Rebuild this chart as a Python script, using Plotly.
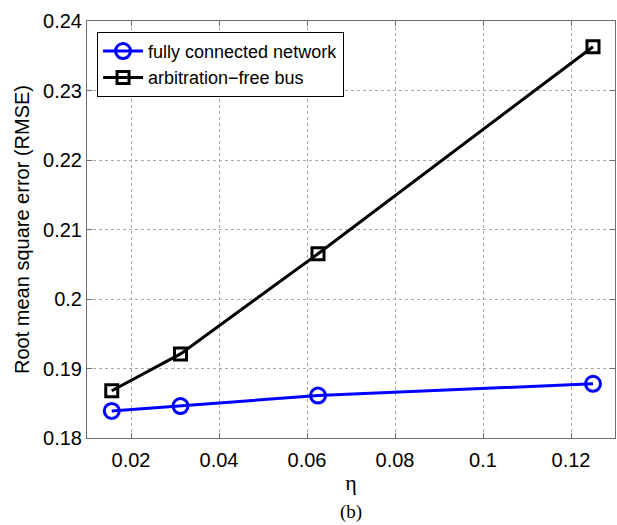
import plotly.graph_objects as go

eta = [0.015625, 0.03125, 0.0625, 0.125]
fully_connected = [0.1839, 0.1846, 0.1861, 0.1878]
arbitration_free = [0.1868, 0.1921, 0.2065, 0.2363]
x_ticks = [0.02, 0.04, 0.06, 0.08, 0.1, 0.12]
x_tick_text = ["0.02", "0.04", "0.06", "0.08", "0.1", "0.12"]
y_ticks = [0.18, 0.19, 0.2, 0.21, 0.22, 0.23, 0.24]
y_tick_text = ["0.18", "0.19", "0.2", "0.21", "0.22", "0.23", "0.24"]

fig = go.Figure()
fig.add_trace(go.Scatter(
    x=eta, y=fully_connected, mode="lines+markers",
    name="fully connected network",
    line=dict(color="#0000ff", width=3),
    marker=dict(symbol="circle-open", size=15, color="#0000ff", line=dict(width=3)),
))
fig.add_trace(go.Scatter(
    x=eta, y=arbitration_free, mode="lines+markers",
    name="arbitration\u2212free bus",
    line=dict(color="#000000", width=3),
    marker=dict(symbol="square-open", size=12, color="#000000", line=dict(width=3)),
))

axis_common = dict(
    showline=True, linecolor="#6e6e6e", linewidth=1, mirror="ticks",
    ticks="inside", ticklen=5, tickcolor="#6e6e6e",
    showgrid=True, gridcolor="#a8a8a8", griddash="dot", gridwidth=1,
    zeroline=False,
    tickfont=dict(family="Liberation Sans, Arial, sans-serif", size=20, color="#000"),
)

fig.update_xaxes(
    range=[0.01, 0.13], tickvals=x_ticks, ticktext=x_tick_text,
    ticklabelstandoff=4,
    title=dict(text="\u03b7", font=dict(family="Liberation Serif, serif", size=22, color="#000"), standoff=4),
    **axis_common,
)
fig.update_yaxes(
    range=[0.18, 0.24], tickvals=y_ticks, ticktext=y_tick_text,
    title=dict(text="Root mean square error (RMSE)", font=dict(family="Liberation Sans, Arial, sans-serif", size=20, color="#000"), standoff=8),
    **axis_common,
)

fig.add_annotation(
    text="(b)", xref="paper", yref="paper", x=0.5, y=-0.178, yanchor="middle",
    showarrow=False, font=dict(family="Liberation Serif, serif", size=19, color="#000"),
)

fig.update_layout(
    width=617, height=525,
    margin=dict(l=87, r=2, t=21, b=87),
    paper_bgcolor="white", plot_bgcolor="white",
    showlegend=True,
    legend=dict(
        x=0.019, y=0.974, xanchor="left", yanchor="top",
        bgcolor="white", bordercolor="#000", borderwidth=1,
        font=dict(family="Liberation Sans, Arial, sans-serif", size=18, color="#000"),
        itemwidth=40, tracegroupgap=0,
    ),
)

fig.write_html("out.html")
